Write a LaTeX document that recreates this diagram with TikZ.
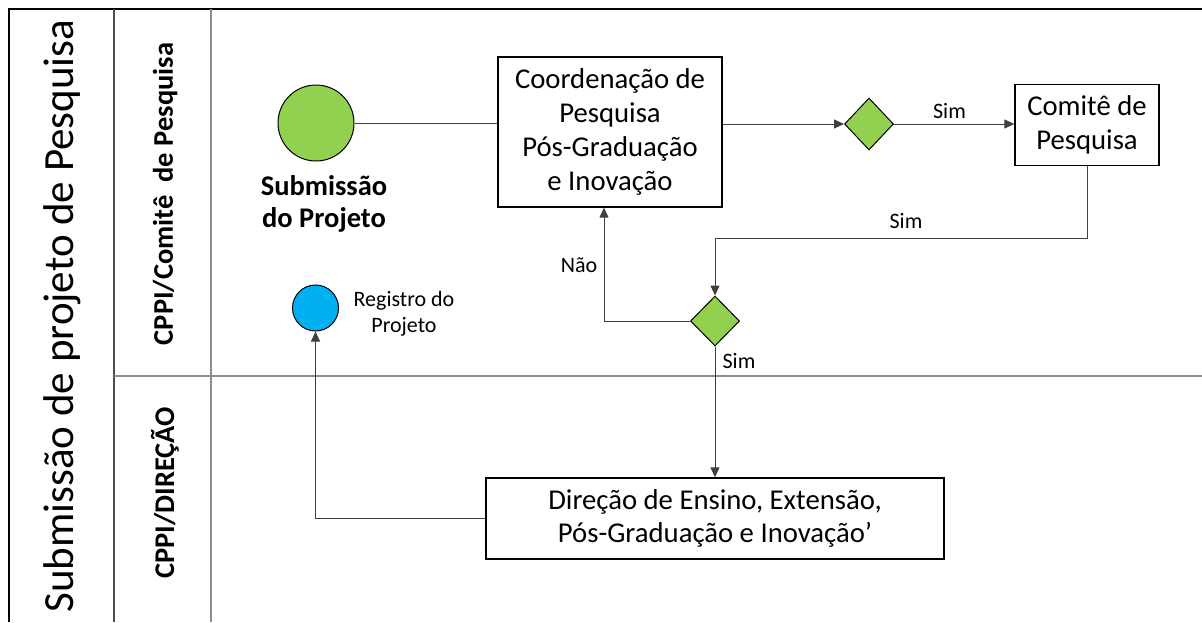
\documentclass[tikz,border=0pt]{standalone}
\usepackage{fontspec}
\setmainfont{Carlito}
\usetikzlibrary{shapes.geometric,arrows.meta,calc}
\definecolor{lgreen}{HTML}{92D050}
\definecolor{lblue}{HTML}{00B0F0}
\tikzset{
  conn/.style={draw=black!75, line width=1pt},
  arr/.style={conn, -{Triangle[length=10pt,width=9pt]}},
  procbox/.style={draw=black, line width=1.3pt, fill=white, rectangle, inner sep=0pt, align=center, font=\fontsize{28.7}{34}\selectfont},
  gate/.style={draw=black, line width=1pt, fill=lgreen, diamond, inner sep=0pt},
  evt/.style={draw=black, line width=1pt, circle, inner sep=0pt},
  lbl/.style={inner sep=0pt, font=\fontsize{22}{26}\selectfont, align=center},
  lanelbl/.style={inner sep=0pt, rotate=90, font=\fontsize{28.5}{32}\selectfont\bfseries},
}
\begin{document}
\begin{tikzpicture}[x=1pt,y=-1pt]
\useasboundingbox (0,0) rectangle (1202,622);
% pool frame
\draw[line width=2pt, black] (9,622) -- (9,9) -- (1202,9);
\draw[line width=1.5pt, black!70] (114,9) -- (114,622);
\draw[line width=1.5pt, black!45] (211,9) -- (211,622);
\draw[line width=2pt, black!45] (114,376) -- (1202,376);
% pool and lane titles
\node[inner sep=0pt, rotate=90, font=\fontsize{43}{48}\selectfont] (pool) at (62,316) {Submissão de projeto de Pesquisa};
\node[lanelbl] (lane1) at (165,194) {CPPI/Comitê~ de Pesquisa};
\node[lanelbl] (lane2) at (165,493) {CPPI/DIREÇÃO};
% shapes
\node[evt, fill=lgreen, minimum size=76pt] (start) at (316,123) {};
\node[inner sep=0pt, align=center, font=\fontsize{28.5}{32}\selectfont\bfseries] (startlbl) at (324,204) {Submissão\\do Projeto};
\node[procbox, minimum width=224pt, minimum height=150pt] (coord) at (610,132) {Coordenação de\\Pesquisa\\Pós-Graduação\\e Inovação};
\node[gate, minimum width=49pt, minimum height=52pt] (d1) at (869,124) {};
\node[procbox, minimum width=144pt, minimum height=81pt] (comite) at (1087,125) {Comitê de\\Pesquisa};
\node[gate, minimum width=49pt, minimum height=50pt] (d2) at (715,321) {};
\node[procbox, minimum width=458pt, minimum height=81pt, font=\fontsize{28.7}{33}\selectfont] (direcao) at (715,518.5) {Direção de Ensino, Extensão,\\Pós-Graduação e Inovação’};
\node[evt, fill=lblue, minimum size=46pt] (reg) at (315.5,308) {};
\node[lbl] (reglbl) at (404,314) {Registro do\\Projeto};
% connectors
\draw[conn] (start.east) -- (start.east -| coord.west);
\draw[arr] (coord.east |- d1.west) -- (d1.west);
\draw[arr] (d1.east) -- (d1.east -| comite.west);
\draw[arr] (comite.south) -- ++(0,72) -| (d2.north);
\draw[arr] (d2.west) -| ([xshift=-6pt]coord.south);
\draw[arr] (d2.south) -- (d2.south |- direcao.north);
\draw[arr] (direcao.west) -| (reg.south);
% connector labels
\node[lbl] (l1) at (949.5,111.5) {Sim};
\node[lbl] (l2) at (906,221.5) {Sim};
\node[lbl] (l3) at (579,265) {Não};
\node[lbl] (l4) at (739,360.5) {Sim};
\end{tikzpicture}
\end{document}
